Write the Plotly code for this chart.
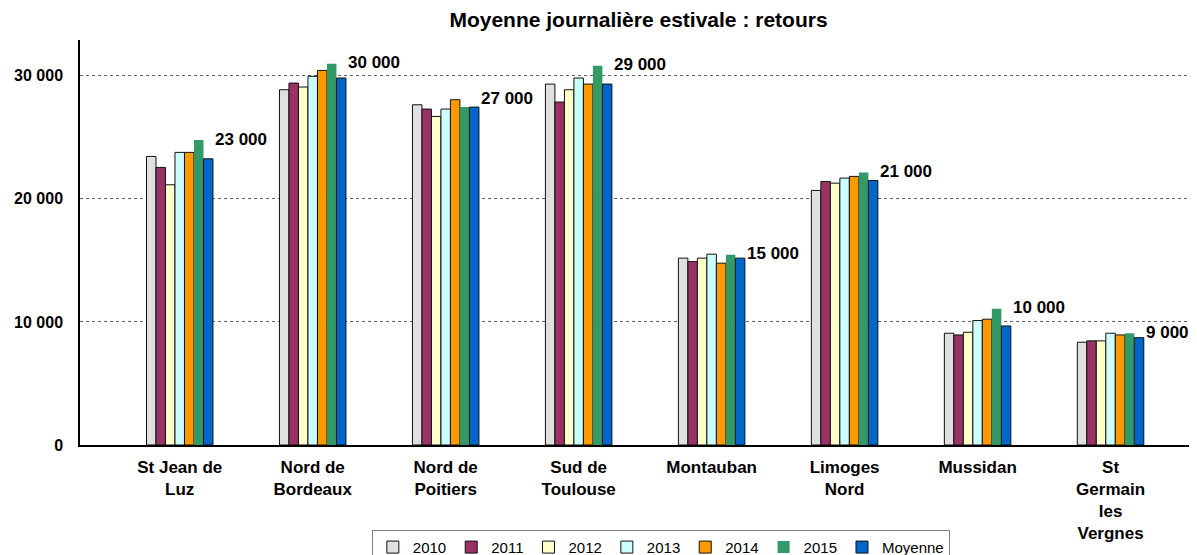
import plotly.graph_objects as go

categories = ["St Jean de<br>Luz", "Nord de<br>Bordeaux", "Nord de<br>Poitiers", "Sud de<br>Toulouse",
              "Montauban", "Limoges<br>Nord", "Mussidan", "St<br>Germain<br>les<br>Vergnes"]

v2010 = [23440, 28860, 27640, 29320, 15180, 20680, 9080, 8350]
v2011 = [22550, 29400, 27290, 27860, 14900, 21410, 8940, 8460]
v2012 = [21140, 29080, 26690, 28860, 15180, 21270, 9160, 8460]
v2013 = [23770, 29950, 27290, 29810, 15500, 21680, 10110, 9080]
v2014 = [23770, 30430, 28050, 29320, 14770, 21820, 10220, 8940]
v2015 = [24770, 30980, 27450, 30810, 15450, 22140, 11060, 9080]
moyenne = [23250, 29810, 27450, 29320, 15180, 21490, 9670, 8720]

labels = [23000, 30000, 27000, 29000, 15000, 21000, 10000, 9000]

series = [
    ("2010", v2010, "#E0E0E0"),
    ("2011", v2011, "#993366"),
    ("2012", v2012, "#FFFFCC"),
    ("2013", v2013, "#CCFFFF"),
    ("2014", v2014, "#FF9900"),
    ("2015", v2015, "#339966"),
    ("Moyenne", moyenne, "#0066CC"),
]

x = list(range(len(categories)))

fig = go.Figure()
for name, vals, col in series:
    lw = 0 if name == "2015" else 1
    fig.add_trace(go.Bar(x=x, y=vals, name=name,
                         marker=dict(color=col, line=dict(color="#111111", width=lw))))

# value labels to the right of each group
tops = [max(g) for g in zip(*[s[1] for s in series])]
for i, (lab, top) in enumerate(zip(labels, tops)):
    fig.add_annotation(x=i + 0.25, y=top, text="<b>" + f"{lab:,}".replace(",", " ") + "</b>",
                       showarrow=False, xanchor="left", yanchor="middle", yshift=1,
                       font=dict(family="Liberation Sans, Arial", size=17, color="black"))

# page body has an 8px margin, so the figure is a bit smaller and the margins shifted
fig.update_layout(
    width=1189, height=547,
    margin=dict(l=72, r=0, t=32, b=110),
    plot_bgcolor="white", paper_bgcolor="white",
    separators=". ",
    barmode="group", bargap=0.5, bargroupgap=0,
    font=dict(family="Liberation Sans, Arial", color="black"),
    title=dict(text="<b>Moyenne journalière estivale : retours</b>",
               x=0.5, xref="paper", xanchor="center", y=0.978, yref="container",
               yanchor="middle", font=dict(size=21)),
    legend=dict(orientation="h", x=0.52, xanchor="center", xref="paper",
                y=0.046, yref="container", yanchor="top",
                bordercolor="#808080", borderwidth=1, font=dict(size=15),
                itemwidth=30, tracegroupgap=0),
    xaxis=dict(tickvals=x, ticktext=["<b>" + c + "</b>" for c in categories],
               range=[-0.75, 7.65], showgrid=False, showline=True, linecolor="black",
               linewidth=1.5, ticks="", tickfont=dict(size=17), ticklabelstandoff=6,
               automargin=False),
    yaxis=dict(range=[0, 32900], tickvals=[0, 10000, 20000, 30000], tickformat=",d",
               showgrid=True, gridcolor="#606060", griddash="dot", gridwidth=1,
               showline=True, linecolor="black", linewidth=1.5, zeroline=False,
               ticks="", tickfont=dict(size=16, weight="bold"), ticklabelstandoff=12,
               automargin=False),
)

fig.write_html("out.html")
